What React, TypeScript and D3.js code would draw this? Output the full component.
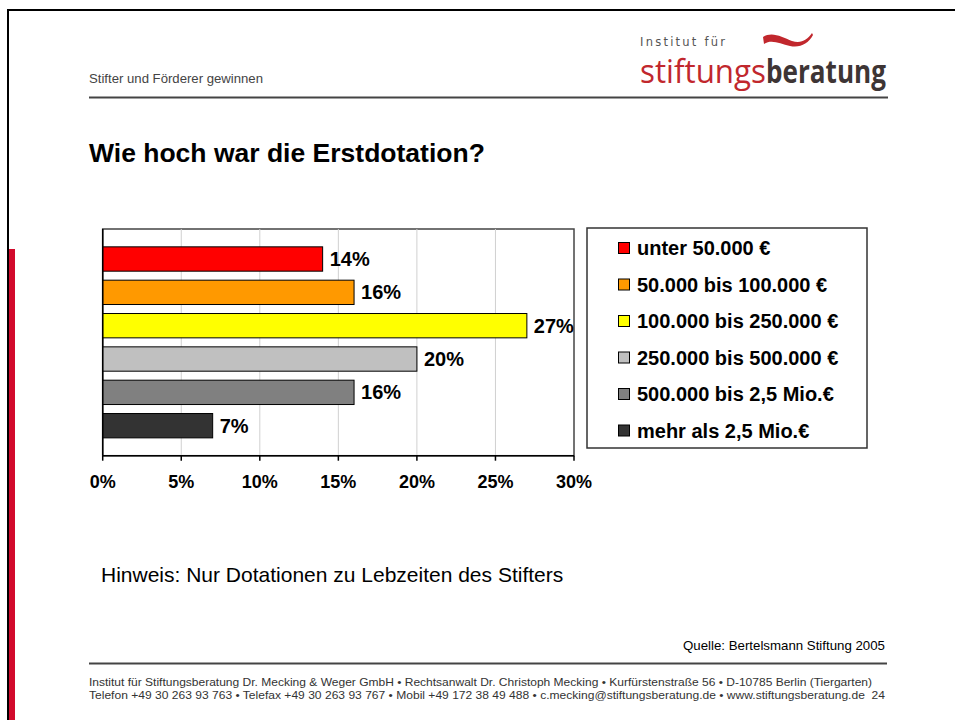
import React from "react";
import * as d3 from "d3";

// chart data
const categories = [
  "unter 50.000 €",
  "50.000 bis 100.000 €",
  "100.000 bis 250.000 €",
  "250.000 bis 500.000 €",
  "500.000 bis 2,5 Mio.€",
  "mehr als 2,5 Mio.€",
];
const shares = [14, 16, 27, 20, 16, 7];
const xTicks = [0, 5, 10, 15, 20, 25, 30];

const barColors = ["#ff0000", "#ff9900", "#ffff00", "#c0c0c0", "#808080", "#333333"];

const W = 955;
const H = 720;
const FONT = "'Liberation Sans', Arial, Helvetica, sans-serif";
const NARROW = "'Liberation Sans Narrow', 'Liberation Sans', Arial, sans-serif";

const plot = { left: 102.7, right: 574, top: 229, bottom: 455.7 };

const App: React.FC = () => {
  const x = d3.scaleLinear().domain([0, 30]).range([plot.left, plot.right]);
  const y = d3
    .scaleBand<string>()
    .domain(categories)
    .range([plot.top, plot.bottom])
    .paddingInner(0.27)
    .paddingOuter(0.535);

  const legendY = d3
    .scalePoint<string>()
    .domain(categories)
    .range([248, 248 + 36.5 * (categories.length - 1)]);

  return (
    <svg
      width={W}
      height={H}
      viewBox={`0 0 ${W} ${H}`}
      style={{ position: "absolute", left: 0, top: 0, background: "#fff" }}
      fontFamily={FONT}
    >
      {/* page frame */}
      <rect x={0} y={0} width={W} height={H} fill="#fff" />
      <line x1={7} x2={W} y1={10} y2={10} stroke="#000" strokeWidth={2} />
      <line x1={8} x2={8} y1={9} y2={H} stroke="#000" strokeWidth={2} />
      <rect x={9} y={249} width={6} height={H - 249} fill="#d20a2c" />

      {/* header */}
      <text x={89} y={83} fontSize={13} fill="#444" textLength={174} lengthAdjust="spacingAndGlyphs">
        Stifter und Förderer gewinnen
      </text>
      <line x1={89} x2={888} y1={97.5} y2={97.5} stroke="#444" strokeWidth={2} />

      {/* logo */}
      <text
        x={640}
        y={46}
        fontSize={11.5}
        fill="#555"
        fontFamily="'DejaVu Sans', sans-serif"
        textLength={85}
        lengthAdjust="spacing"
      >
        Institut für
      </text>
      <text
        x={640}
        y={83}
        fontSize={33}
        fill="#c1272d"
        fontFamily="'Open Sans', 'Noto Sans', sans-serif"
        textLength={126}
        lengthAdjust="spacingAndGlyphs"
      >
        stiftungs
      </text>
      <text
        x={766}
        y={83}
        fontSize={33}
        fontWeight="bold"
        fill="#3e3535"
        fontFamily="'Open Sans', 'Noto Sans', sans-serif"
        textLength={120}
        lengthAdjust="spacingAndGlyphs"
      >
        beratung
      </text>
      <path
        d="M763,37 C772,31 782,37 792,41 C801,44 807,40 812,33 L813,35 C808,44 800,48 790,46 C780,44 772,39 764,44 Z"
        fill="#c1272d"
      />

      {/* title */}
      <text x={89} y={162} fontSize={26.5} fontWeight="bold" fill="#000">
        Wie hoch war die Erstdotation?
      </text>

      {/* plot area */}
      <rect
        x={plot.left}
        y={plot.top}
        width={plot.right - plot.left}
        height={plot.bottom - plot.top}
        fill="#fff"
        stroke="#444"
        strokeWidth={1.5}
      />
      {xTicks.slice(1, -1).map((t) => (
        <line key={t} x1={x(t)} x2={x(t)} y1={plot.top} y2={plot.bottom} stroke="#d0d0d0" strokeWidth={1} />
      ))}

      {categories.map((c, i) => (
        <g key={c}>
          <rect
            x={x(0)}
            y={y(c)}
            width={x(shares[i]) - x(0)}
            height={y.bandwidth()}
            fill={barColors[i]}
            stroke="#000"
            strokeWidth={1}
          />
          <text
            x={x(shares[i]) + 7}
            y={(y(c) as number) + y.bandwidth() / 2 + 7}
            fontSize={20}
            fontWeight="bold"
            fill="#000"
          >
            {shares[i]}%
          </text>
        </g>
      ))}

      {/* axes */}
      <line x1={plot.left} x2={plot.left} y1={plot.top} y2={plot.bottom} stroke="#000" strokeWidth={1.5} />
      <line x1={plot.left} x2={plot.right} y1={plot.bottom} y2={plot.bottom} stroke="#000" strokeWidth={1.5} />
      {xTicks.map((t) => (
        <g key={t}>
          <line x1={x(t)} x2={x(t)} y1={plot.bottom} y2={plot.bottom + 5} stroke="#000" strokeWidth={1.5} />
          <text x={x(t)} y={488} fontSize={18} fontWeight="bold" textAnchor="middle" fill="#000">
            {t}%
          </text>
        </g>
      ))}

      {/* legend */}
      <rect x={587} y={228} width={280} height={220} fill="#fff" stroke="#333" strokeWidth={1.5} />
      {categories.map((c, i) => (
        <g key={c}>
          <rect
            x={618.5}
            y={(legendY(c) as number) - 5.5}
            width={11}
            height={11}
            fill={barColors[i]}
            stroke="#000"
            strokeWidth={1}
          />
          <text x={637} y={(legendY(c) as number) + 7} fontSize={20} fontWeight="bold" fill="#000">
            {c}
          </text>
        </g>
      ))}

      {/* note */}
      <text x={101} y={582} fontSize={21} fill="#000">
        Hinweis: Nur Dotationen zu Lebzeiten des Stifters
      </text>

      {/* source and footer */}
      <text
        x={885}
        y={650}
        fontSize={13}
        fill="#000"
        textAnchor="end"
        textLength={202}
        lengthAdjust="spacingAndGlyphs"
      >
        Quelle: Bertelsmann Stiftung 2005
      </text>
      <line x1={89} x2={887} y1={663.5} y2={663.5} stroke="#444" strokeWidth={2} />
      <text
        x={89}
        y={686}
        fontSize={11.5}
        fill="#333"
        fontFamily={NARROW}
        textLength={783}
        lengthAdjust="spacingAndGlyphs"
      >
        Institut für Stiftungsberatung Dr. Mecking &amp; Weger GmbH • Rechtsanwalt Dr. Christoph Mecking • Kurfürstenstraße 56 • D-10785 Berlin (Tiergarten)
      </text>
      <text
        x={89}
        y={699}
        fontSize={11.5}
        fill="#333"
        fontFamily={NARROW}
        textLength={796}
        lengthAdjust="spacingAndGlyphs"
        xmlSpace="preserve"
      >
        Telefon +49 30 263 93 763 • Telefax +49 30 263 93 767 • Mobil +49 172 38 49 488 • c.mecking@stiftungsberatung.de • www.stiftungsberatung.de  24
      </text>
    </svg>
  );
};

export default App;
